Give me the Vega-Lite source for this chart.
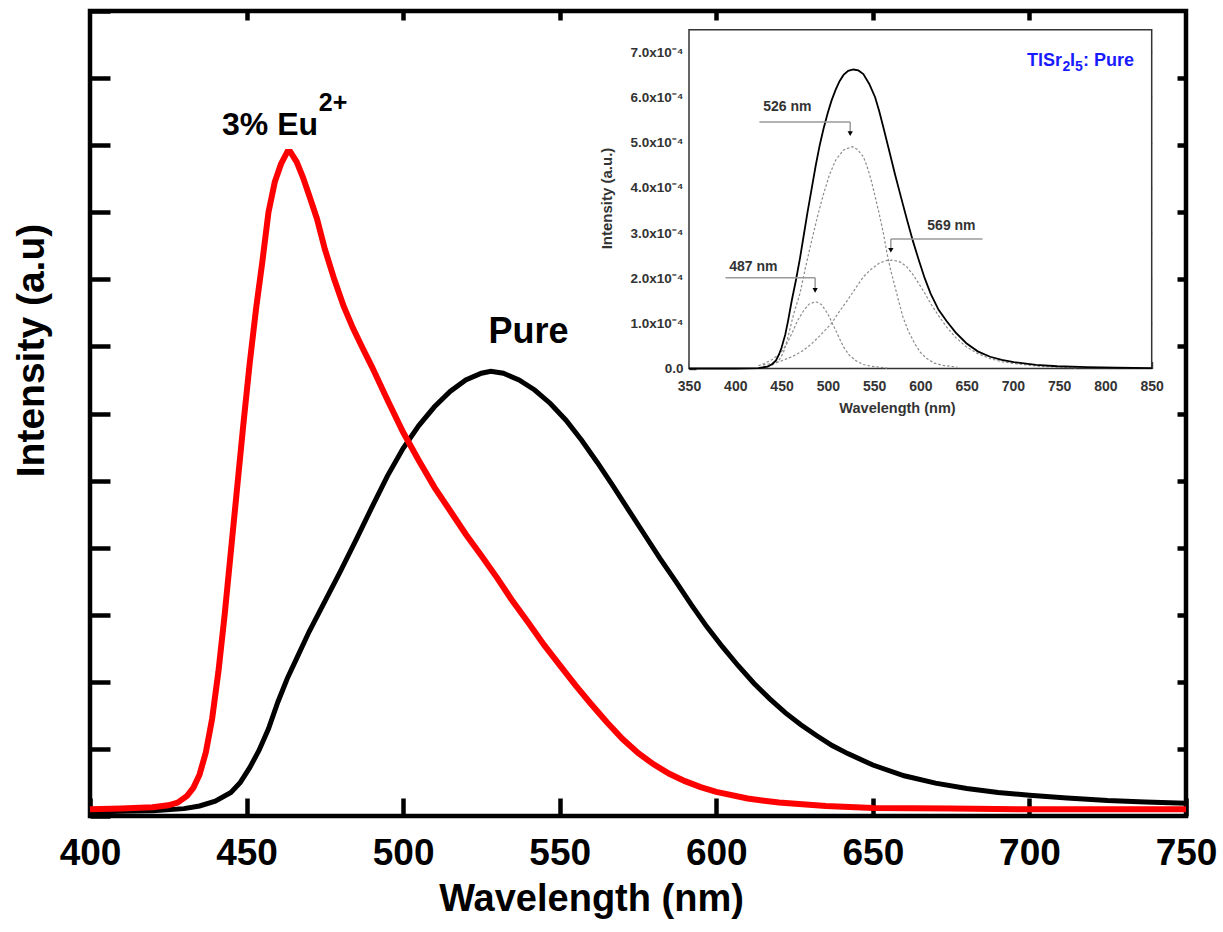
{
  "$schema": "https://vega.github.io/schema/vega-lite/v6.json",
  "width": 1096,
  "height": 805,
  "autosize": {"type": "none"},
  "padding": {"left": 90, "top": 11, "right": 37, "bottom": 116},
  "background": "white",
  "config": {
    "font": "Liberation Sans",
    "view": {"stroke": "black", "strokeWidth": 4.5},
    "axis": {"grid": false, "domain": false}
  },
  "datasets": {
    "main": [
      {"wl": 400, "v": 0.06, "s": "Pure"}, {"wl": 410, "v": 0.07, "s": "Pure"}, {"wl": 420, "v": 0.08, "s": "Pure"},
      {"wl": 430, "v": 0.11, "s": "Pure"}, {"wl": 435, "v": 0.15, "s": "Pure"}, {"wl": 440, "v": 0.22, "s": "Pure"},
      {"wl": 445, "v": 0.35, "s": "Pure"}, {"wl": 448, "v": 0.5, "s": "Pure"}, {"wl": 451, "v": 0.72, "s": "Pure"},
      {"wl": 454, "v": 0.98, "s": "Pure"}, {"wl": 457, "v": 1.3, "s": "Pure"}, {"wl": 460, "v": 1.7, "s": "Pure"},
      {"wl": 463, "v": 2.05, "s": "Pure"}, {"wl": 466, "v": 2.35, "s": "Pure"}, {"wl": 470, "v": 2.75, "s": "Pure"},
      {"wl": 475, "v": 3.2, "s": "Pure"}, {"wl": 480, "v": 3.65, "s": "Pure"}, {"wl": 485, "v": 4.12, "s": "Pure"},
      {"wl": 490, "v": 4.6, "s": "Pure"}, {"wl": 495, "v": 5.07, "s": "Pure"}, {"wl": 500, "v": 5.48, "s": "Pure"},
      {"wl": 505, "v": 5.82, "s": "Pure"}, {"wl": 510, "v": 6.1, "s": "Pure"}, {"wl": 515, "v": 6.33, "s": "Pure"},
      {"wl": 520, "v": 6.5, "s": "Pure"}, {"wl": 525, "v": 6.6, "s": "Pure"}, {"wl": 528, "v": 6.63, "s": "Pure"},
      {"wl": 532, "v": 6.6, "s": "Pure"}, {"wl": 537, "v": 6.5, "s": "Pure"}, {"wl": 542, "v": 6.35, "s": "Pure"},
      {"wl": 547, "v": 6.15, "s": "Pure"}, {"wl": 552, "v": 5.9, "s": "Pure"}, {"wl": 557, "v": 5.6, "s": "Pure"},
      {"wl": 562, "v": 5.27, "s": "Pure"}, {"wl": 567, "v": 4.92, "s": "Pure"}, {"wl": 572, "v": 4.56, "s": "Pure"},
      {"wl": 577, "v": 4.2, "s": "Pure"}, {"wl": 582, "v": 3.84, "s": "Pure"}, {"wl": 587, "v": 3.5, "s": "Pure"},
      {"wl": 592, "v": 3.15, "s": "Pure"}, {"wl": 597, "v": 2.82, "s": "Pure"}, {"wl": 602, "v": 2.52, "s": "Pure"},
      {"wl": 607, "v": 2.24, "s": "Pure"}, {"wl": 612, "v": 1.98, "s": "Pure"}, {"wl": 617, "v": 1.75, "s": "Pure"},
      {"wl": 622, "v": 1.54, "s": "Pure"}, {"wl": 627, "v": 1.36, "s": "Pure"}, {"wl": 632, "v": 1.2, "s": "Pure"},
      {"wl": 637, "v": 1.05, "s": "Pure"}, {"wl": 642, "v": 0.93, "s": "Pure"}, {"wl": 650, "v": 0.76, "s": "Pure"},
      {"wl": 660, "v": 0.6, "s": "Pure"}, {"wl": 670, "v": 0.49, "s": "Pure"}, {"wl": 680, "v": 0.41, "s": "Pure"},
      {"wl": 690, "v": 0.35, "s": "Pure"}, {"wl": 700, "v": 0.31, "s": "Pure"}, {"wl": 712, "v": 0.27, "s": "Pure"},
      {"wl": 725, "v": 0.23, "s": "Pure"}, {"wl": 737, "v": 0.21, "s": "Pure"}, {"wl": 750, "v": 0.19, "s": "Pure"},
      {"wl": 400, "v": 0.1, "s": "Eu"}, {"wl": 410, "v": 0.11, "s": "Eu"}, {"wl": 420, "v": 0.13, "s": "Eu"},
      {"wl": 425, "v": 0.16, "s": "Eu"}, {"wl": 428, "v": 0.2, "s": "Eu"}, {"wl": 431, "v": 0.3, "s": "Eu"},
      {"wl": 433, "v": 0.42, "s": "Eu"}, {"wl": 435, "v": 0.62, "s": "Eu"}, {"wl": 437, "v": 0.95, "s": "Eu"},
      {"wl": 439, "v": 1.45, "s": "Eu"}, {"wl": 441, "v": 2.15, "s": "Eu"}, {"wl": 443, "v": 3.0, "s": "Eu"},
      {"wl": 445, "v": 3.95, "s": "Eu"}, {"wl": 447, "v": 4.9, "s": "Eu"}, {"wl": 449, "v": 5.85, "s": "Eu"},
      {"wl": 451, "v": 6.75, "s": "Eu"}, {"wl": 453, "v": 7.55, "s": "Eu"}, {"wl": 455, "v": 8.25, "s": "Eu"},
      {"wl": 457, "v": 9.0, "s": "Eu"}, {"wl": 459, "v": 9.45, "s": "Eu"}, {"wl": 461, "v": 9.72, "s": "Eu"},
      {"wl": 463, "v": 9.9, "s": "Eu"}, {"wl": 464, "v": 9.9, "s": "Eu"}, {"wl": 466, "v": 9.75, "s": "Eu"},
      {"wl": 468, "v": 9.52, "s": "Eu"}, {"wl": 470, "v": 9.25, "s": "Eu"}, {"wl": 472.5, "v": 8.9, "s": "Eu"},
      {"wl": 475, "v": 8.45, "s": "Eu"}, {"wl": 478, "v": 8.0, "s": "Eu"}, {"wl": 481, "v": 7.6, "s": "Eu"},
      {"wl": 484, "v": 7.27, "s": "Eu"}, {"wl": 487, "v": 6.98, "s": "Eu"}, {"wl": 490, "v": 6.7, "s": "Eu"},
      {"wl": 495, "v": 6.2, "s": "Eu"}, {"wl": 500, "v": 5.72, "s": "Eu"}, {"wl": 505, "v": 5.3, "s": "Eu"},
      {"wl": 510, "v": 4.9, "s": "Eu"}, {"wl": 515, "v": 4.55, "s": "Eu"}, {"wl": 520, "v": 4.2, "s": "Eu"},
      {"wl": 525, "v": 3.88, "s": "Eu"}, {"wl": 530, "v": 3.55, "s": "Eu"}, {"wl": 535, "v": 3.2, "s": "Eu"},
      {"wl": 540, "v": 2.88, "s": "Eu"}, {"wl": 545, "v": 2.55, "s": "Eu"}, {"wl": 550, "v": 2.25, "s": "Eu"},
      {"wl": 555, "v": 1.95, "s": "Eu"}, {"wl": 560, "v": 1.67, "s": "Eu"}, {"wl": 565, "v": 1.4, "s": "Eu"},
      {"wl": 570, "v": 1.15, "s": "Eu"}, {"wl": 575, "v": 0.94, "s": "Eu"}, {"wl": 580, "v": 0.77, "s": "Eu"},
      {"wl": 585, "v": 0.63, "s": "Eu"}, {"wl": 590, "v": 0.52, "s": "Eu"}, {"wl": 595, "v": 0.43, "s": "Eu"},
      {"wl": 600, "v": 0.36, "s": "Eu"}, {"wl": 610, "v": 0.26, "s": "Eu"}, {"wl": 620, "v": 0.2, "s": "Eu"},
      {"wl": 635, "v": 0.15, "s": "Eu"}, {"wl": 650, "v": 0.12, "s": "Eu"}, {"wl": 675, "v": 0.11, "s": "Eu"},
      {"wl": 700, "v": 0.1, "s": "Eu"}, {"wl": 750, "v": 0.1, "s": "Eu"}
    ],
    "inset": [
      {"wl": 350, "v": 0, "c": "sum"}, {"wl": 400, "v": 0, "c": "sum"}, {"wl": 425, "v": 0.01, "c": "sum"},
      {"wl": 435, "v": 0.04, "c": "sum"}, {"wl": 440, "v": 0.1, "c": "sum"}, {"wl": 444, "v": 0.18, "c": "sum"},
      {"wl": 447, "v": 0.3, "c": "sum"}, {"wl": 450, "v": 0.46, "c": "sum"}, {"wl": 454, "v": 0.75, "c": "sum"},
      {"wl": 457, "v": 1.05, "c": "sum"}, {"wl": 461, "v": 1.5, "c": "sum"}, {"wl": 465.6, "v": 1.96, "c": "sum"},
      {"wl": 470, "v": 2.45, "c": "sum"}, {"wl": 474, "v": 2.95, "c": "sum"}, {"wl": 478, "v": 3.45, "c": "sum"},
      {"wl": 482.7, "v": 4.0, "c": "sum"}, {"wl": 487, "v": 4.5, "c": "sum"}, {"wl": 491.3, "v": 4.95, "c": "sum"},
      {"wl": 495.5, "v": 5.32, "c": "sum"}, {"wl": 500, "v": 5.66, "c": "sum"}, {"wl": 504, "v": 5.93, "c": "sum"},
      {"wl": 508.4, "v": 6.17, "c": "sum"}, {"wl": 512.7, "v": 6.36, "c": "sum"}, {"wl": 517, "v": 6.5, "c": "sum"},
      {"wl": 522, "v": 6.59, "c": "sum"}, {"wl": 527.7, "v": 6.62, "c": "sum"}, {"wl": 533, "v": 6.6, "c": "sum"},
      {"wl": 538.4, "v": 6.52, "c": "sum"}, {"wl": 544.8, "v": 6.3, "c": "sum"}, {"wl": 551.2, "v": 6.0, "c": "sum"},
      {"wl": 555.5, "v": 5.7, "c": "sum"}, {"wl": 559.8, "v": 5.36, "c": "sum"}, {"wl": 566, "v": 4.85, "c": "sum"},
      {"wl": 572.6, "v": 4.3, "c": "sum"}, {"wl": 579, "v": 3.8, "c": "sum"}, {"wl": 585.5, "v": 3.3, "c": "sum"},
      {"wl": 592, "v": 2.82, "c": "sum"}, {"wl": 598.3, "v": 2.4, "c": "sum"}, {"wl": 604.7, "v": 2.0, "c": "sum"},
      {"wl": 611.1, "v": 1.66, "c": "sum"}, {"wl": 619.7, "v": 1.3, "c": "sum"}, {"wl": 628.3, "v": 1.05, "c": "sum"},
      {"wl": 638, "v": 0.8, "c": "sum"}, {"wl": 649.7, "v": 0.56, "c": "sum"}, {"wl": 662, "v": 0.38, "c": "sum"},
      {"wl": 675.4, "v": 0.26, "c": "sum"}, {"wl": 688, "v": 0.19, "c": "sum"}, {"wl": 701, "v": 0.14, "c": "sum"},
      {"wl": 725, "v": 0.08, "c": "sum"}, {"wl": 748, "v": 0.05, "c": "sum"}, {"wl": 780, "v": 0.03, "c": "sum"},
      {"wl": 812, "v": 0.02, "c": "sum"}, {"wl": 850, "v": 0.01, "c": "sum"},
      {"wl": 430, "v": 0.03, "c": "526"}, {"wl": 440, "v": 0.08, "c": "526"}, {"wl": 446.3, "v": 0.15, "c": "526"},
      {"wl": 452, "v": 0.35, "c": "526"}, {"wl": 457, "v": 0.7, "c": "526"}, {"wl": 463, "v": 1.2, "c": "526"},
      {"wl": 469.9, "v": 1.66, "c": "526"}, {"wl": 476, "v": 2.25, "c": "526"}, {"wl": 482.7, "v": 2.84, "c": "526"},
      {"wl": 489, "v": 3.38, "c": "526"}, {"wl": 495.6, "v": 3.88, "c": "526"}, {"wl": 502, "v": 4.3, "c": "526"},
      {"wl": 508.4, "v": 4.61, "c": "526"}, {"wl": 517, "v": 4.84, "c": "526"}, {"wl": 526.4, "v": 4.91, "c": "526"},
      {"wl": 532, "v": 4.85, "c": "526"}, {"wl": 538.4, "v": 4.69, "c": "526"}, {"wl": 542.5, "v": 4.47, "c": "526"},
      {"wl": 546.9, "v": 4.17, "c": "526"}, {"wl": 551, "v": 3.82, "c": "526"}, {"wl": 555.5, "v": 3.43, "c": "526"},
      {"wl": 560, "v": 3.0, "c": "526"}, {"wl": 564, "v": 2.55, "c": "526"}, {"wl": 568, "v": 2.17, "c": "526"},
      {"wl": 572.6, "v": 1.81, "c": "526"}, {"wl": 577, "v": 1.46, "c": "526"}, {"wl": 581.2, "v": 1.14, "c": "526"},
      {"wl": 587, "v": 0.83, "c": "526"}, {"wl": 594, "v": 0.55, "c": "526"}, {"wl": 600, "v": 0.36, "c": "526"},
      {"wl": 606.9, "v": 0.22, "c": "526"}, {"wl": 615, "v": 0.12, "c": "526"}, {"wl": 624, "v": 0.07, "c": "526"},
      {"wl": 640, "v": 0.03, "c": "526"},
      {"wl": 425, "v": 0.06, "c": "487"}, {"wl": 431.3, "v": 0.11, "c": "487"}, {"wl": 440, "v": 0.2, "c": "487"},
      {"wl": 448.5, "v": 0.33, "c": "487"}, {"wl": 455, "v": 0.52, "c": "487"}, {"wl": 461.3, "v": 0.78, "c": "487"},
      {"wl": 467, "v": 1.05, "c": "487"}, {"wl": 474.1, "v": 1.29, "c": "487"}, {"wl": 480, "v": 1.43, "c": "487"},
      {"wl": 487, "v": 1.48, "c": "487"}, {"wl": 493, "v": 1.42, "c": "487"}, {"wl": 499.8, "v": 1.22, "c": "487"},
      {"wl": 504, "v": 1.04, "c": "487"}, {"wl": 508.4, "v": 0.85, "c": "487"}, {"wl": 512.7, "v": 0.66, "c": "487"},
      {"wl": 517, "v": 0.48, "c": "487"}, {"wl": 523, "v": 0.3, "c": "487"}, {"wl": 529.8, "v": 0.18, "c": "487"},
      {"wl": 538, "v": 0.09, "c": "487"}, {"wl": 546.9, "v": 0.05, "c": "487"}, {"wl": 564, "v": 0.01, "c": "487"},
      {"wl": 430, "v": 0.08, "c": "569"}, {"wl": 439.9, "v": 0.11, "c": "569"}, {"wl": 450, "v": 0.17, "c": "569"},
      {"wl": 461.3, "v": 0.26, "c": "569"}, {"wl": 472, "v": 0.38, "c": "569"}, {"wl": 482.7, "v": 0.55, "c": "569"},
      {"wl": 493, "v": 0.76, "c": "569"}, {"wl": 504.1, "v": 1.0, "c": "569"}, {"wl": 512, "v": 1.25, "c": "569"},
      {"wl": 521.2, "v": 1.51, "c": "569"}, {"wl": 530, "v": 1.78, "c": "569"}, {"wl": 538.4, "v": 2.03, "c": "569"},
      {"wl": 547, "v": 2.2, "c": "569"}, {"wl": 555.5, "v": 2.33, "c": "569"}, {"wl": 563, "v": 2.39, "c": "569"},
      {"wl": 570.5, "v": 2.4, "c": "569"}, {"wl": 578, "v": 2.36, "c": "569"}, {"wl": 585.5, "v": 2.25, "c": "569"},
      {"wl": 592, "v": 2.08, "c": "569"}, {"wl": 598.3, "v": 1.88, "c": "569"}, {"wl": 605, "v": 1.66, "c": "569"},
      {"wl": 611.1, "v": 1.44, "c": "569"}, {"wl": 619.7, "v": 1.17, "c": "569"}, {"wl": 628.3, "v": 0.92, "c": "569"},
      {"wl": 638, "v": 0.69, "c": "569"}, {"wl": 649.7, "v": 0.48, "c": "569"}, {"wl": 662, "v": 0.33, "c": "569"},
      {"wl": 675.4, "v": 0.22, "c": "569"}, {"wl": 688, "v": 0.15, "c": "569"}, {"wl": 701, "v": 0.11, "c": "569"},
      {"wl": 726.7, "v": 0.05, "c": "569"}, {"wl": 769.5, "v": 0.015, "c": "569"}
    ]
  },
  "layer": [
    {
      "data": {"name": "main"},
      "encoding": {
        "x": {
          "field": "wl", "type": "quantitative",
          "scale": {"domain": [400, 750], "nice": false, "zero": false},
          "axis": {
            "orient": "bottom", "values": [400, 450, 500, 550, 600, 650, 700, 750],
            "tickSize": -18, "tickWidth": 4.5, "tickColor": "black",
            "labelPadding": 37, "labelFontSize": 37, "labelFontWeight": "bold", "labelColor": "black",
            "labelFlush": false, "labelOverlap": false,
            "title": "Wavelength (nm)", "titleFontSize": 38, "titleFontWeight": "bold", "titleColor": "black",
            "titleX": 501, "titleY": 94, "titleBaseline": "alphabetic", "titleAlign": "center"
          }
        },
        "y": {
          "field": "v", "type": "quantitative",
          "scale": {"domain": [0, 12], "nice": false, "zero": false},
          "axis": {
            "orient": "left", "values": [0, 1, 2, 3, 4, 5, 6, 7, 8, 9, 10, 11, 12],
            "tickSize": -20, "tickWidth": 4.5, "tickColor": "black", "labels": false,
            "title": "Intensity (a.u)", "titleFontSize": 39, "titleFontWeight": "bold", "titleColor": "black",
            "titleX": -47, "titleY": 339, "titleBaseline": "alphabetic", "titleAlign": "center", "titleAngle": -90
          }
        }
      },
      "layer": [
        {"transform": [{"filter": "datum.s == 'Pure'"}], "mark": {"type": "line", "color": "black", "strokeWidth": 5}},
        {"transform": [{"filter": "datum.s == 'Eu'"}], "mark": {"type": "line", "color": "#ff0000", "strokeWidth": 6}},
        {
          "data": {"values": [{"wl": 457.5, "v": 10.15, "t": "3% Eu"}]},
          "mark": {"type": "text", "fontSize": 32, "fontWeight": "bold", "align": "center", "baseline": "alphabetic", "color": "black"},
          "encoding": {"text": {"field": "t"}}
        },
        {
          "data": {"values": [{"wl": 477.6, "v": 10.51, "t": "2+"}]},
          "mark": {"type": "text", "fontSize": 25, "fontWeight": "bold", "align": "center", "baseline": "alphabetic", "color": "black"},
          "encoding": {"text": {"field": "t"}}
        },
        {
          "data": {"values": [{"wl": 540, "v": 7.05, "t": "Pure"}]},
          "mark": {"type": "text", "fontSize": 36, "fontWeight": "bold", "align": "center", "baseline": "alphabetic", "color": "black"},
          "encoding": {"text": {"field": "t"}}
        }
      ]
    },
    {
      "data": {"name": "main"},
      "mark": {"type": "point", "opacity": 0},
      "encoding": {
        "x": {
          "field": "wl", "type": "quantitative",
          "scale": {"domain": [400, 750], "nice": false, "zero": false},
          "axis": {"orient": "top", "values": [450, 500, 550, 600, 650, 700], "tickSize": -9, "tickWidth": 4.5, "tickColor": "black", "labels": false, "title": null}
        },
        "y": {
          "field": "v", "type": "quantitative",
          "scale": {"domain": [0, 12], "nice": false, "zero": false},
          "axis": {"orient": "right", "values": [1, 2, 3, 4, 5, 6, 7, 8, 9, 10, 11], "tickSize": -9, "tickWidth": 4.5, "tickColor": "black", "labels": false, "title": null}
        }
      }
    },
    {
      "encoding": {
        "x": {
          "field": "wl", "type": "quantitative",
          "scale": {"domain": [-297.3, 887.07], "nice": false, "zero": false},
          "axis": {
            "orient": "bottom", "offset": -447.5, "values": [350, 400, 450, 500, 550, 600, 650, 700, 750, 800, 850],
            "tickSize": -7, "tickWidth": 1.4, "tickColor": "#333333",
            "labelPadding": 17.5, "labelFontSize": 14, "labelFontWeight": "bold", "labelColor": "#333333",
            "labelFlush": false, "labelOverlap": false,
            "title": "Wavelength (nm)", "titleFontSize": 14.5, "titleFontWeight": "bold", "titleColor": "#333333",
            "titleX": 807, "titleY": 43.5, "titleBaseline": "alphabetic", "titleAlign": "center"
          }
        },
        "y": {
          "field": "v", "type": "quantitative",
          "scale": {"domain": [-9.907, 7.915], "nice": false, "zero": false},
          "axis": {
            "orient": "left", "offset": -599, "values": [0, 1, 2, 3, 4, 5, 6, 7],
            "tickSize": -7, "tickWidth": 1.4, "tickColor": "#333333",
            "labelPadding": 13, "labelFontSize": 13.5, "labelFontWeight": "bold", "labelColor": "#333333",
            "labelExpr": "datum.value == 0 ? '0.0' : format(datum.value, '.1f') + 'x10⁻⁴'",
            "labelOverlap": false,
            "title": "Intensity (a.u.)", "titleFontSize": 15, "titleFontWeight": "bold", "titleColor": "#333333",
            "titleX": -78, "titleY": 187, "titleBaseline": "alphabetic", "titleAlign": "center", "titleAngle": -90
          }
        }
      },
      "layer": [
        {
          "data": {"values": [{"wl": 350, "wl2": 850, "v": 0, "v2": 7.5}]},
          "mark": {"type": "rect", "fill": "white", "stroke": "#333333", "strokeWidth": 1.5},
          "encoding": {"x2": {"field": "wl2"}, "y2": {"field": "v2"}}
        },
        {
          "data": {"name": "inset"},
          "transform": [{"filter": "datum.c != 'sum'"}],
          "mark": {"type": "line", "color": "#8c8c8c", "strokeWidth": 1.2, "strokeDash": [2.5, 2]},
          "encoding": {"detail": {"field": "c"}}
        },
        {
          "data": {"name": "inset"},
          "transform": [{"filter": "datum.c == 'sum'"}],
          "mark": {"type": "line", "color": "black", "strokeWidth": 1.8}
        },
        {
          "data": {"values": [
            {"wl": 426.1, "wl2": 524.2, "v": 5.46, "v2": 5.46},
            {"wl": 524.2, "wl2": 524.2, "v": 5.46, "v2": 5.22},
            {"wl": 568.1, "wl2": 667.2, "v": 2.87, "v2": 2.87},
            {"wl": 568.1, "wl2": 568.1, "v": 2.87, "v2": 2.63},
            {"wl": 389.4, "wl2": 486.3, "v": 2.01, "v2": 2.01},
            {"wl": 486.3, "wl2": 486.3, "v": 2.01, "v2": 1.75}
          ]},
          "mark": {"type": "rule", "color": "#9a9a9a", "strokeWidth": 1.5},
          "encoding": {"x2": {"field": "wl2"}, "y2": {"field": "v2"}}
        },
        {
          "data": {"values": [
            {"wl": 524.2, "v": 5.2},
            {"wl": 568.1, "v": 2.62},
            {"wl": 486.3, "v": 1.73}
          ]},
          "mark": {"type": "point", "shape": "triangle-down", "filled": true, "color": "black", "size": 28, "opacity": 1}
        },
        {
          "data": {"values": [
            {"wl": 456.2, "v": 5.78, "t": "526 nm"},
            {"wl": 633.6, "v": 3.15, "t": "569 nm"},
            {"wl": 419.6, "v": 2.25, "t": "487 nm"}
          ]},
          "mark": {"type": "text", "fontSize": 14, "fontWeight": "bold", "align": "center", "baseline": "middle", "color": "#333333"},
          "encoding": {"text": {"field": "t"}}
        },
        {
          "data": {"values": [
            {"wl": 715.2, "v": 6.7, "t": "TlSr"},
            {"wl": 761.7, "v": 6.7, "t": "I"},
            {"wl": 775.8, "v": 6.7, "t": ": Pure"}
          ]},
          "mark": {"type": "text", "fontSize": 18, "fontWeight": "bold", "align": "left", "baseline": "alphabetic", "color": "#1a1aff"},
          "encoding": {"text": {"field": "t"}}
        },
        {
          "data": {"values": [
            {"wl": 753.6, "v": 6.58, "t": "2"},
            {"wl": 767.1, "v": 6.58, "t": "5"}
          ]},
          "mark": {"type": "text", "fontSize": 14, "fontWeight": "bold", "align": "left", "baseline": "alphabetic", "color": "#1a1aff"},
          "encoding": {"text": {"field": "t"}}
        }
      ]
    },
    {
      "data": {"name": "inset"},
      "mark": {"type": "point", "opacity": 0},
      "encoding": {
        "x": {
          "field": "wl", "type": "quantitative",
          "scale": {"domain": [-297.3, 887.07], "nice": false, "zero": false},
          "axis": {"orient": "top", "offset": -18.6, "values": [400, 450, 500, 550, 600, 650, 700, 750, 800], "tickSize": -7, "tickWidth": 1.4, "tickColor": "#333333", "labels": false, "title": null}
        },
        "y": {
          "field": "v", "type": "quantitative",
          "scale": {"domain": [-9.907, 7.915], "nice": false, "zero": false},
          "axis": {"orient": "right", "offset": -34.3, "values": [1, 2, 3, 4, 5, 6, 7], "tickSize": -7, "tickWidth": 1.4, "tickColor": "#333333", "labels": false, "title": null}
        }
      }
    }
  ],
  "resolve": {
    "scale": {"x": "independent", "y": "independent"},
    "axis": {"x": "independent", "y": "independent"}
  }
}
